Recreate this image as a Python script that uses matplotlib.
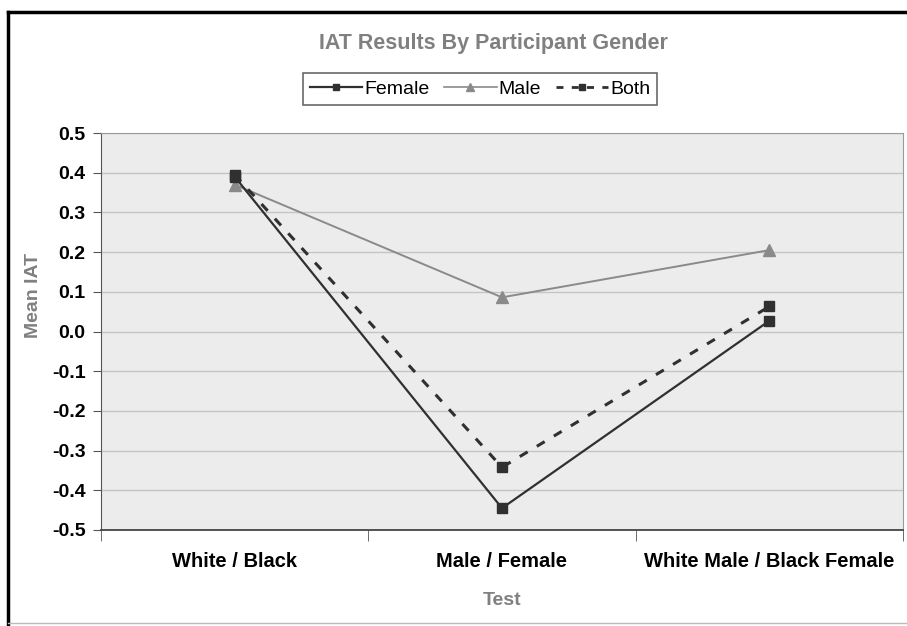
import matplotlib
matplotlib.use("Agg")
import matplotlib.pyplot as plt
from matplotlib.lines import Line2D

plt.rcParams['font.family'] = ['Liberation Sans', 'DejaVu Sans']

tests = ['White / Black', 'Male / Female', 'White Male / Black Female']
female = [0.39, -0.445, 0.027]
male = [0.37, 0.086, 0.205]
both = [0.395, -0.342, 0.063]
yticks = [0.5, 0.4, 0.3, 0.2, 0.1, 0.0, -0.1, -0.2, -0.3, -0.4, -0.5]

dark = '#303030'
light = '#8a8a8a'
label_grey = '#808080'

fig = plt.figure(figsize=(9.07, 6.26), dpi=100)
ax = fig.add_axes([101 / 907, 96 / 626, 802 / 907, 397 / 626])
ax.set_facecolor('#ececec')

x = range(len(tests))
ax.plot(x, female, color=dark, lw=1.6, marker='s', ms=6.5, mec=dark, mfc=dark, label='Female', zorder=4)
ax.plot(x, male, color=light, lw=1.4, marker='^', ms=8, mec=light, mfc=light, label='Male', zorder=3)
ax.plot(x, both, color=dark, lw=2.2, ls=(0, (3, 3.5)), marker='s', ms=6.5, mec=dark, mfc=dark, label='Both', zorder=5)

ax.set_xlim(-0.5, 2.5)
ax.set_ylim(-0.5, 0.5)
ax.set_yticks(yticks)
ax.set_yticklabels([f'{v:.1f}' for v in yticks])
ax.yaxis.grid(True, color='#c4c4c4', lw=1)
ax.set_axisbelow(True)

ax.set_xticks(list(x))
ax.set_xticklabels(tests)
ax.set_xticks([-0.5, 0.5, 1.5, 2.5], minor=True)
ax.tick_params(axis='x', which='major', length=0, pad=16, labelsize=14.5)
ax.tick_params(axis='x', which='minor', length=8, color='#555555', direction='out')
ax.tick_params(axis='y', length=6, color='#555555', labelsize=14, pad=5)
for lab in ax.get_xticklabels() + ax.get_yticklabels():
    lab.set_fontweight('bold')
    lab.set_color('black')

for side in ['top', 'right']:
    ax.spines[side].set_color('#9a9a9a')
ax.spines['left'].set_color('#555555')
ax.spines['bottom'].set_color('#444444')
ax.spines['bottom'].set_linewidth(1.3)

ax.set_xlabel('Test', fontsize=14, fontweight='bold', color=label_grey, labelpad=15)
ax.set_ylabel('Mean IAT', fontsize=14, fontweight='bold', color=label_grey)
ax.yaxis.set_label_coords(-0.073, 0.59)

fig.text(493 / 907, 1 - 43 / 626, 'IAT Results By Participant Gender', ha='center', va='center',
         fontsize=15.5, fontweight='bold', color=label_grey)

handles = [
    Line2D([], [], color=dark, lw=1.6, marker='s', ms=5, mfc=dark, mec=dark),
    Line2D([], [], color=light, lw=1.2, marker='^', ms=6, mfc=light, mec=light),
    Line2D([], [], color=dark, lw=2, ls=(0, (2.5, 3)), marker='s', ms=5, mfc=dark, mec=dark),
]
leg = fig.legend(handles, ['Female', 'Male', 'Both'], loc='center', ncol=3,
                 bbox_to_anchor=(480 / 907, 1 - 89 / 626), fontsize=14,
                 handlelength=2.7, handletextpad=0.1, columnspacing=0.75,
                 frameon=True, fancybox=False, edgecolor='#444444', borderpad=0.35)
leg.get_frame().set_linewidth(1.2)

# outer chart border
fig.add_artist(Line2D([8 / 907, 8 / 907], [1 - 12 / 626, 0], transform=fig.transFigure, color='black', lw=2.5))
fig.add_artist(Line2D([8 / 907, 1], [1 - 12 / 626, 1 - 12 / 626], transform=fig.transFigure, color='black', lw=2.5))
fig.add_artist(Line2D([8 / 907, 1], [3 / 626, 3 / 626], transform=fig.transFigure, color='#bbbbbb', lw=1))

fig.savefig('out.png', dpi=100)
